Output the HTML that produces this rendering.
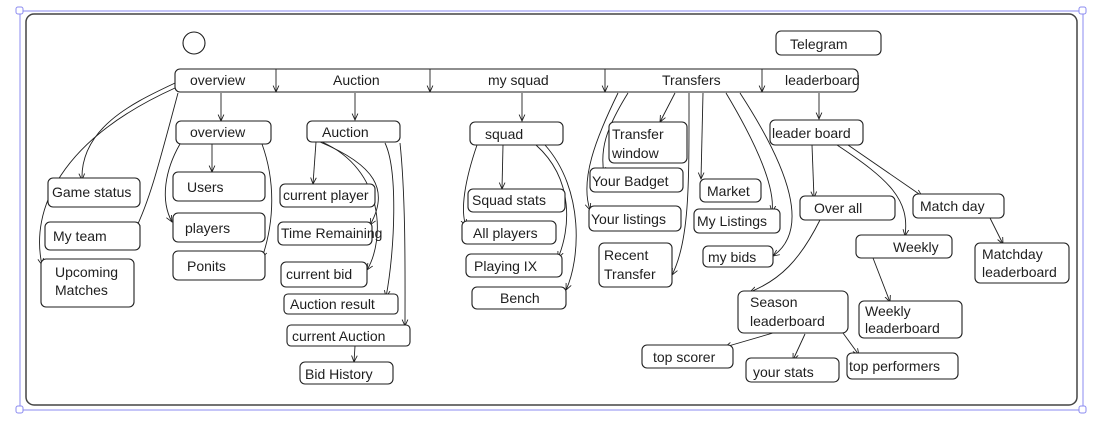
<!DOCTYPE html>
<html><head><meta charset="utf-8"><style>
html,body{margin:0;padding:0;background:#fff;width:1097px;height:421px;overflow:hidden}
svg{display:block}
text{font-family:"Liberation Sans","DejaVu Sans",sans-serif;fill:#1e1e1e;font-size:14px}
.b{fill:#fff;stroke:#1e1e1e;stroke-width:1.1}
.l{fill:none;stroke:#1e1e1e;stroke-width:0.9}
</style></head><body>
<svg width="1097" height="421" viewBox="0 0 1097 421" xmlns="http://www.w3.org/2000/svg">
<defs><marker id="a" viewBox="0 0 10 10" refX="9" refY="5" markerWidth="8" markerHeight="8" orient="auto-start-reverse"><path d="M0,1 L9,5 L0,9" fill="none" stroke="#1e1e1e" stroke-width="1.2"/></marker></defs>
<rect x="20" y="11" width="1063" height="399" fill="none" stroke="#8b8bf0" stroke-width="1"/>
<rect x="16" y="7" width="7" height="7" rx="2" fill="#fff" stroke="#8b8bf0"/>
<rect x="1079" y="7" width="7" height="7" rx="2" fill="#fff" stroke="#8b8bf0"/>
<rect x="16" y="406" width="7" height="7" rx="2" fill="#fff" stroke="#8b8bf0"/>
<rect x="1079" y="406" width="7" height="7" rx="2" fill="#fff" stroke="#8b8bf0"/>
<rect x="26" y="14" width="1051" height="391" rx="8" fill="none" stroke="#444" stroke-width="1.5"/>
<circle cx="194" cy="43" r="11" class="b"/>
<rect x="776" y="31" width="105" height="24" rx="5" class="b"/><text x="790" y="49" font-size="15">Telegram</text>
<rect x="175" y="69" width="683" height="23" rx="5" class="b"/>
<text x="190" y="85" font-size="11">overview</text><text x="333" y="85" font-size="11">Auction</text><text x="488" y="85">my squad</text><text x="662" y="85" font-size="11">Transfers</text><text x="785" y="85" font-size="11">leaderboard</text>
<g class="l">
<path d="M276,69 V92" marker-end="url(#a)"/><path d="M430,69 V92" marker-end="url(#a)"/><path d="M605,69 V92" marker-end="url(#a)"/><path d="M762,69 V92" marker-end="url(#a)"/>
<path d="M221,93 V121" marker-end="url(#a)"/><path d="M355,93 V120" marker-end="url(#a)"/><path d="M522,93 V121" marker-end="url(#a)"/><path d="M819,93 V119" marker-end="url(#a)"/>
<path d="M175,83 C140,100 80,125 82,180" marker-end="url(#a)"/>
<path d="M175,88 C60,140 30,210 42,265" marker-end="url(#a)"/>
<path d="M178,93 C160,160 150,200 135,230" marker-end="url(#a)"/>
<path d="M212,144 V172" marker-end="url(#a)"/>
<path d="M180,144 C165,170 160,200 172,222" marker-end="url(#a)"/>
<path d="M262,144 C275,180 275,220 262,258" marker-end="url(#a)"/>
<path d="M316,142 L313,184" marker-end="url(#a)"/>
<path d="M320,142 C375,165 390,190 370,225" marker-end="url(#a)"/>
<path d="M322,142 C385,170 385,240 367,270" marker-end="url(#a)"/>
<path d="M385,143 C398,170 395,250 386,297" marker-end="url(#a)"/>
<path d="M400,143 C406,200 405,280 405,326" marker-end="url(#a)"/>
<path d="M355,346 L354,362" marker-end="url(#a)"/>
<path d="M503,145 L502,189" marker-end="url(#a)"/>
<path d="M477,145 C465,180 460,210 466,226" marker-end="url(#a)"/>
<path d="M536,145 C575,180 570,230 558,258" marker-end="url(#a)"/>
<path d="M545,145 C585,190 580,260 566,290" marker-end="url(#a)"/>
<path d="M675,93 L660,122" marker-end="url(#a)"/>
<path d="M628,93 C605,130 600,150 604,174" marker-end="url(#a)"/>
<path d="M618,93 C595,140 580,180 590,210" marker-end="url(#a)"/>
<path d="M689,93 C689,180 690,240 672,275" marker-end="url(#a)"/>
<path d="M703,93 L701,179" marker-end="url(#a)"/>
<path d="M726,93 C760,150 775,190 772,212" marker-end="url(#a)"/>
<path d="M740,93 C790,170 810,230 773,256" marker-end="url(#a)"/>
<path d="M812,145 L814,198" marker-end="url(#a)"/>
<path d="M837,145 C890,180 910,200 905,236" marker-end="url(#a)"/>
<path d="M848,145 L922,196" marker-end="url(#a)"/>
<path d="M820,220 C800,260 780,280 750,292" marker-end="url(#a)"/>
<path d="M873,258 L890,302" marker-end="url(#a)"/>
<path d="M990,218 L1003,244" marker-end="url(#a)"/>
<path d="M773,333 L725,347" marker-end="url(#a)"/>
<path d="M805,334 L793,360" marker-end="url(#a)"/>
<path d="M843,333 L859,355" marker-end="url(#a)"/>
</g>
<rect x="176" y="121" width="95" height="23" rx="5" class="b"/><text x="190" y="137" font-size="13">overview</text>
<rect x="173" y="172" width="92" height="29" rx="5" class="b"/><text x="187" y="192" font-size="16">Users</text>
<rect x="173" y="213" width="92" height="29" rx="5" class="b"/><text x="185" y="233" font-size="15">players</text>
<rect x="173" y="251" width="92" height="29" rx="5" class="b"/><text x="187" y="271" font-size="15">Ponits</text>
<rect x="48" y="178" width="92" height="29" rx="5" class="b"/><text x="52" y="197" font-size="13">Game status</text>
<rect x="45" y="222" width="95" height="28" rx="5" class="b"/><text x="53" y="241">My team</text>
<rect x="41" y="259" width="93" height="48" rx="5" class="b"/><text x="55" y="277">Upcoming</text><text x="55" y="295">Matches</text>
<rect x="307" y="121" width="93" height="21" rx="5" class="b"/><text x="322" y="137" font-size="15">Auction</text>
<rect x="280" y="184" width="95" height="23" rx="5" class="b"/><text x="283" y="200" font-size="13">current player</text>
<rect x="278" y="222" width="94" height="23" rx="5" class="b"/><text x="281" y="238" font-size="10">Time Remaining</text>
<rect x="281" y="262" width="86" height="25" rx="5" class="b"/><text x="286" y="279" font-size="14">current bid</text>
<rect x="284" y="294" width="114" height="20" rx="4" class="b"/><text x="290" y="309" font-size="14">Auction result</text>
<rect x="287" y="325" width="123" height="21" rx="4" class="b"/><text x="292" y="341" font-size="14">current Auction</text>
<rect x="300" y="362" width="93" height="22" rx="5" class="b"/><text x="305" y="379" font-size="15">Bid History</text>
<rect x="470" y="122" width="93" height="23" rx="5" class="b"/><text x="485" y="139" font-size="15">squad</text>
<rect x="468" y="189" width="97" height="23" rx="5" class="b"/><text x="472" y="205" font-size="13">Squad stats</text>
<rect x="462" y="221" width="94" height="23" rx="5" class="b"/><text x="473" y="238" font-size="15">All players</text>
<rect x="466" y="254" width="96" height="23" rx="5" class="b"/><text x="474" y="271" font-size="15">Playing IX</text>
<rect x="472" y="287" width="94" height="22" rx="5" class="b"/><text x="500" y="303" font-size="15">Bench</text>
<rect x="609" y="122" width="78" height="41" rx="5" class="b"/><text x="612" y="139" font-size="15">Transfer</text><text x="612" y="158" font-size="15">window</text>
<rect x="590" y="168" width="93" height="24" rx="5" class="b"/><text x="592" y="186" font-size="15">Your Badget</text>
<rect x="589" y="206" width="92" height="25" rx="5" class="b"/><text x="591" y="224" font-size="14">Your listings</text>
<rect x="599" y="243" width="73" height="44" rx="5" class="b"/><text x="604" y="260" font-size="14">Recent</text><text x="604" y="279" font-size="14">Transfer</text>
<rect x="700" y="179" width="61" height="23" rx="5" class="b"/><text x="707" y="196" font-size="14">Market</text>
<rect x="694" y="209" width="86" height="24" rx="5" class="b"/><text x="697" y="226" font-size="14">My Listings</text>
<rect x="703" y="246" width="70" height="21" rx="5" class="b"/><text x="708" y="262" font-size="14">my bids</text>
<rect x="770" y="120" width="93" height="25" rx="5" class="b"/><text x="772" y="138" font-size="15">leader board</text>
<rect x="800" y="196" width="95" height="24" rx="5" class="b"/><text x="814" y="213" font-size="15">Over all</text>
<rect x="913" y="194" width="91" height="24" rx="5" class="b"/><text x="920" y="211" font-size="15">Match day</text>
<rect x="856" y="235" width="96" height="23" rx="5" class="b"/><text x="893" y="252" font-size="14">Weekly</text>
<rect x="975" y="243" width="94" height="40" rx="5" class="b"/><text x="982" y="259" font-size="14">Matchday</text><text x="982" y="277" font-size="14">leaderboard</text>
<rect x="738" y="291" width="110" height="42" rx="6" class="b"/><text x="750" y="307" font-size="14">Season</text><text x="750" y="326" font-size="14">leaderboard</text>
<rect x="859" y="301" width="103" height="37" rx="5" class="b"/><text x="865" y="316" font-size="14">Weekly</text><text x="865" y="333" font-size="14">leaderboard</text>
<rect x="642" y="345" width="91" height="23" rx="5" class="b"/><text x="653" y="362" font-size="15">top scorer</text>
<rect x="746" y="358" width="93" height="24" rx="5" class="b"/><text x="753" y="377" font-size="15">your stats</text>
<rect x="847" y="353" width="111" height="26" rx="5" class="b"/><text x="849" y="371" font-size="15">top performers</text>
</svg>
</body></html>
